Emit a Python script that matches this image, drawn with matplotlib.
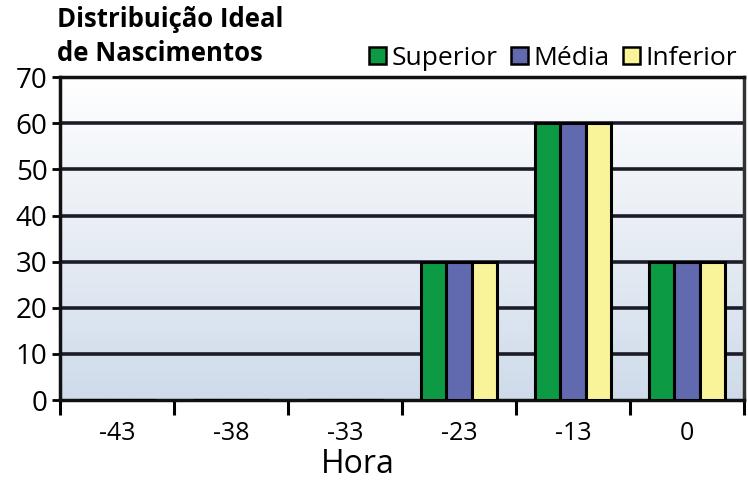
import numpy as np
import matplotlib
matplotlib.use("Agg")
import matplotlib.pyplot as plt
from matplotlib.patches import Patch

categories = ['-43', '-38', '-33', '-23', '-13', '0']
superior = [0, 0, 0, 30, 60, 30]
media = [0, 0, 0, 30, 60, 30]
inferior = [0, 0, 0, 30, 60, 30]
series_names = ['Superior', 'Média', 'Inferior']
colors = ['#0C9A45', '#6169AF', '#F9F39A']
yticks = [0, 10, 20, 30, 40, 50, 60, 70]

plt.rcParams['font.family'] = ['Open Sans', 'DejaVu Sans']

fig = plt.figure(figsize=(7.48, 4.82), dpi=100)
ax = fig.add_axes([0.0802, 0.170, 0.9145, 0.670])

# gradient background
grad = np.linspace(0, 1, 256).reshape(-1, 1)
top = np.array([1.0, 1.0, 1.0])
bot = np.array([0xCF, 0xDB, 0xEA]) / 255.0
img = top[None, None, :] * (1 - grad[:, :, None]) + bot[None, None, :] * grad[:, :, None]
ax.imshow(img, extent=[0, 1, 0, 1], transform=ax.transAxes, aspect='auto', zorder=0)

x = np.arange(len(categories))
w = 0.22
for i, (vals, c) in enumerate(zip([superior, media, inferior], colors)):
    ax.bar(x + (i - 1) * w, vals, width=w, color=c, edgecolor='black', linewidth=2.2, zorder=3)

ax.set_xlim(-0.5, len(categories) - 0.5)
ax.set_ylim(0, 70)
ax.set_yticks(yticks)
ax.set_yticklabels([str(v) for v in yticks], fontsize=20)
for v in yticks[1:-1]:
    ax.axhline(v, color='#1c1c28', linewidth=2.6, zorder=2)

ax.set_xticks(x)
ax.set_xticklabels(categories, fontsize=18)
ax.tick_params(axis='x', which='major', length=0, pad=15)
ax.set_xticks(np.arange(-0.5, len(categories), 1.0), minor=True)
ax.tick_params(axis='x', which='minor', length=11, width=2.2, color='black', direction='out')
ax.tick_params(axis='y', length=6, width=2, color='black', pad=3)

for s in ['left', 'bottom', 'top']:
    ax.spines[s].set_linewidth(2.5)
    ax.spines[s].set_color('#111111')
ax.spines['right'].set_linewidth(2.5)
ax.spines['right'].set_color('#333333')
ax.spines['left'].set_zorder(5)

ax.set_xlabel('Hora', fontsize=23, labelpad=0)
ax.xaxis.set_label_coords(0.436, -0.25)
ax.xaxis.label.set_va('bottom')

fig.text(0.076, 0.987, 'Distribuição Ideal\nde Nascimentos', fontsize=18.5, fontweight='bold',
         ha='left', va='top', linespacing=1.3)

handles = [Patch(facecolor=c, edgecolor='black', linewidth=1.8) for c in colors]
fig.legend(handles, series_names, loc='lower right', bbox_to_anchor=(1.006, 0.82), ncol=3,
           frameon=False, fontsize=19, handlelength=0.65, handleheight=0.65,
           handletextpad=0.2, columnspacing=0.5, borderpad=0.1)

fig.savefig('out.png', dpi=100)
